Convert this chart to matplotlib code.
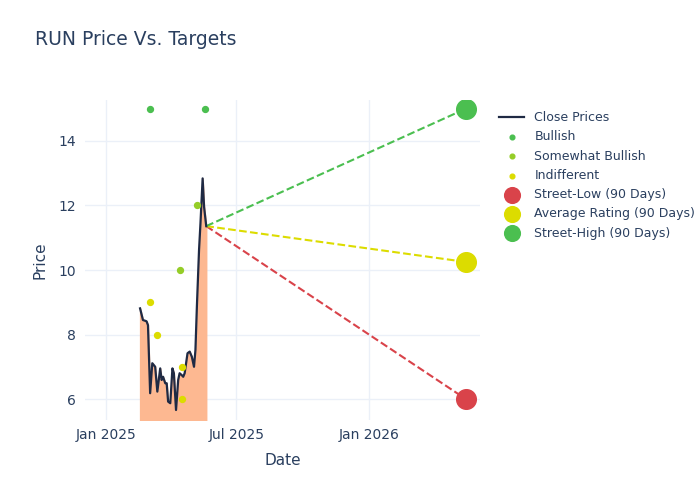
import matplotlib
matplotlib.use("Agg")
import matplotlib.pyplot as plt
import matplotlib.dates as mdates
import pandas as pd

close_dates = ["2025-02-17", "2025-02-21", "2025-02-26", "2025-02-28", "2025-03-03", "2025-03-06",
               "2025-03-10", "2025-03-13", "2025-03-17", "2025-03-19", "2025-03-21", "2025-03-24",
               "2025-03-26", "2025-03-28", "2025-03-31", "2025-04-03", "2025-04-05", "2025-04-08",
               "2025-04-11", "2025-04-13", "2025-04-16", "2025-04-18", "2025-04-20", "2025-04-24",
               "2025-04-27", "2025-04-30", "2025-05-03", "2025-05-05", "2025-05-07", "2025-05-10",
               "2025-05-12", "2025-05-15", "2025-05-17", "2025-05-20"]
close_prices = [8.81, 8.45, 8.41, 8.29, 6.18, 7.11, 7.00, 6.23, 6.95, 6.59, 6.69, 6.49,
                6.49, 5.92, 5.87, 6.95, 6.80, 5.66, 6.59, 6.80, 6.74, 6.69, 6.80, 7.42,
                7.47, 7.31, 7.00, 7.52, 8.86, 10.62, 11.45, 12.84, 11.96, 11.36]

bullish_dates = ["2025-03-03", "2025-05-18"]
bullish_vals = [15, 15]
somewhat_dates = ["2025-04-13", "2025-05-07"]
somewhat_vals = [10, 12]
indiff_dates = ["2025-03-03", "2025-03-12", "2025-04-16", "2025-04-16"]
indiff_vals = [9, 8, 7, 6]

target_date = "2026-05-16"
street_low = 6.0
avg_rating = 10.25
street_high = 15.0

cd = pd.to_datetime(close_dates)
td = pd.Timestamp(target_date)
last_d, last_p = cd[-1], close_prices[-1]

fig = plt.figure(figsize=(7, 5), dpi=100)
ax = fig.add_axes([0.121, 0.16, 0.565, 0.64])
ymin, ymax = 5.35, 15.27

ax.fill_between(cd, close_prices, ymin - 1, color="#fdb891", zorder=1)
ax.plot(cd, close_prices, color="#1f2a44", lw=1.6, label="Close Prices", zorder=3)

ax.scatter(pd.to_datetime(bullish_dates), bullish_vals, s=18, color="#4bbf50", label="Bullish", zorder=4)
ax.scatter(pd.to_datetime(somewhat_dates), somewhat_vals, s=18, color="#95cd28", label="Somewhat Bullish", zorder=4)
ax.scatter(pd.to_datetime(indiff_dates), indiff_vals, s=18, color="#dcdc00", label="Indifferent", zorder=4)

ax.plot([last_d, td], [last_p, street_low], "--", color="#d9434a", lw=1.5, zorder=2)
ax.plot([last_d, td], [last_p, avg_rating], "--", color="#dcdc00", lw=1.5, zorder=2)
ax.plot([last_d, td], [last_p, street_high], "--", color="#4bbf50", lw=1.5, zorder=2)
ax.scatter([td], [street_low], s=200, color="#d9434a", label="Street-Low (90 Days)", zorder=5)
ax.scatter([td], [avg_rating], s=200, color="#dcdc00", label="Average Rating (90 Days)", zorder=5)
ax.scatter([td], [street_high], s=200, color="#4bbf50", label="Street-High (90 Days)", zorder=5)

ax.set_xlim(pd.Timestamp("2024-12-02"), pd.Timestamp("2026-06-05"))
ax.set_ylim(ymin, ymax)
ax.set_xticks(pd.to_datetime(["2025-01-01", "2025-07-01", "2026-01-01"]))
ax.xaxis.set_major_formatter(mdates.DateFormatter("%b %Y"))
ax.set_yticks([6, 8, 10, 12, 14])
ax.grid(color="#ebf0f8", lw=1)
ax.set_axisbelow(True)
for s in ax.spines.values():
    s.set_visible(False)
ax.tick_params(length=0, colors="#2a3f5f", labelsize=10, pad=6)
ax.set_xlabel("Date", color="#2a3f5f", fontsize=11, labelpad=8)
ax.set_ylabel("Price", color="#2a3f5f", fontsize=11, labelpad=8)

fig.text(0.05, 0.91, "RUN Price Vs. Targets", color="#2a3f5f", fontsize=13.5)
leg = ax.legend(loc="upper left", bbox_to_anchor=(1.02, 1.0), frameon=False, fontsize=9,
                labelcolor="#2a3f5f", markerscale=0.8, handlelength=2, labelspacing=0.5)

fig.savefig("out.png", dpi=100)
